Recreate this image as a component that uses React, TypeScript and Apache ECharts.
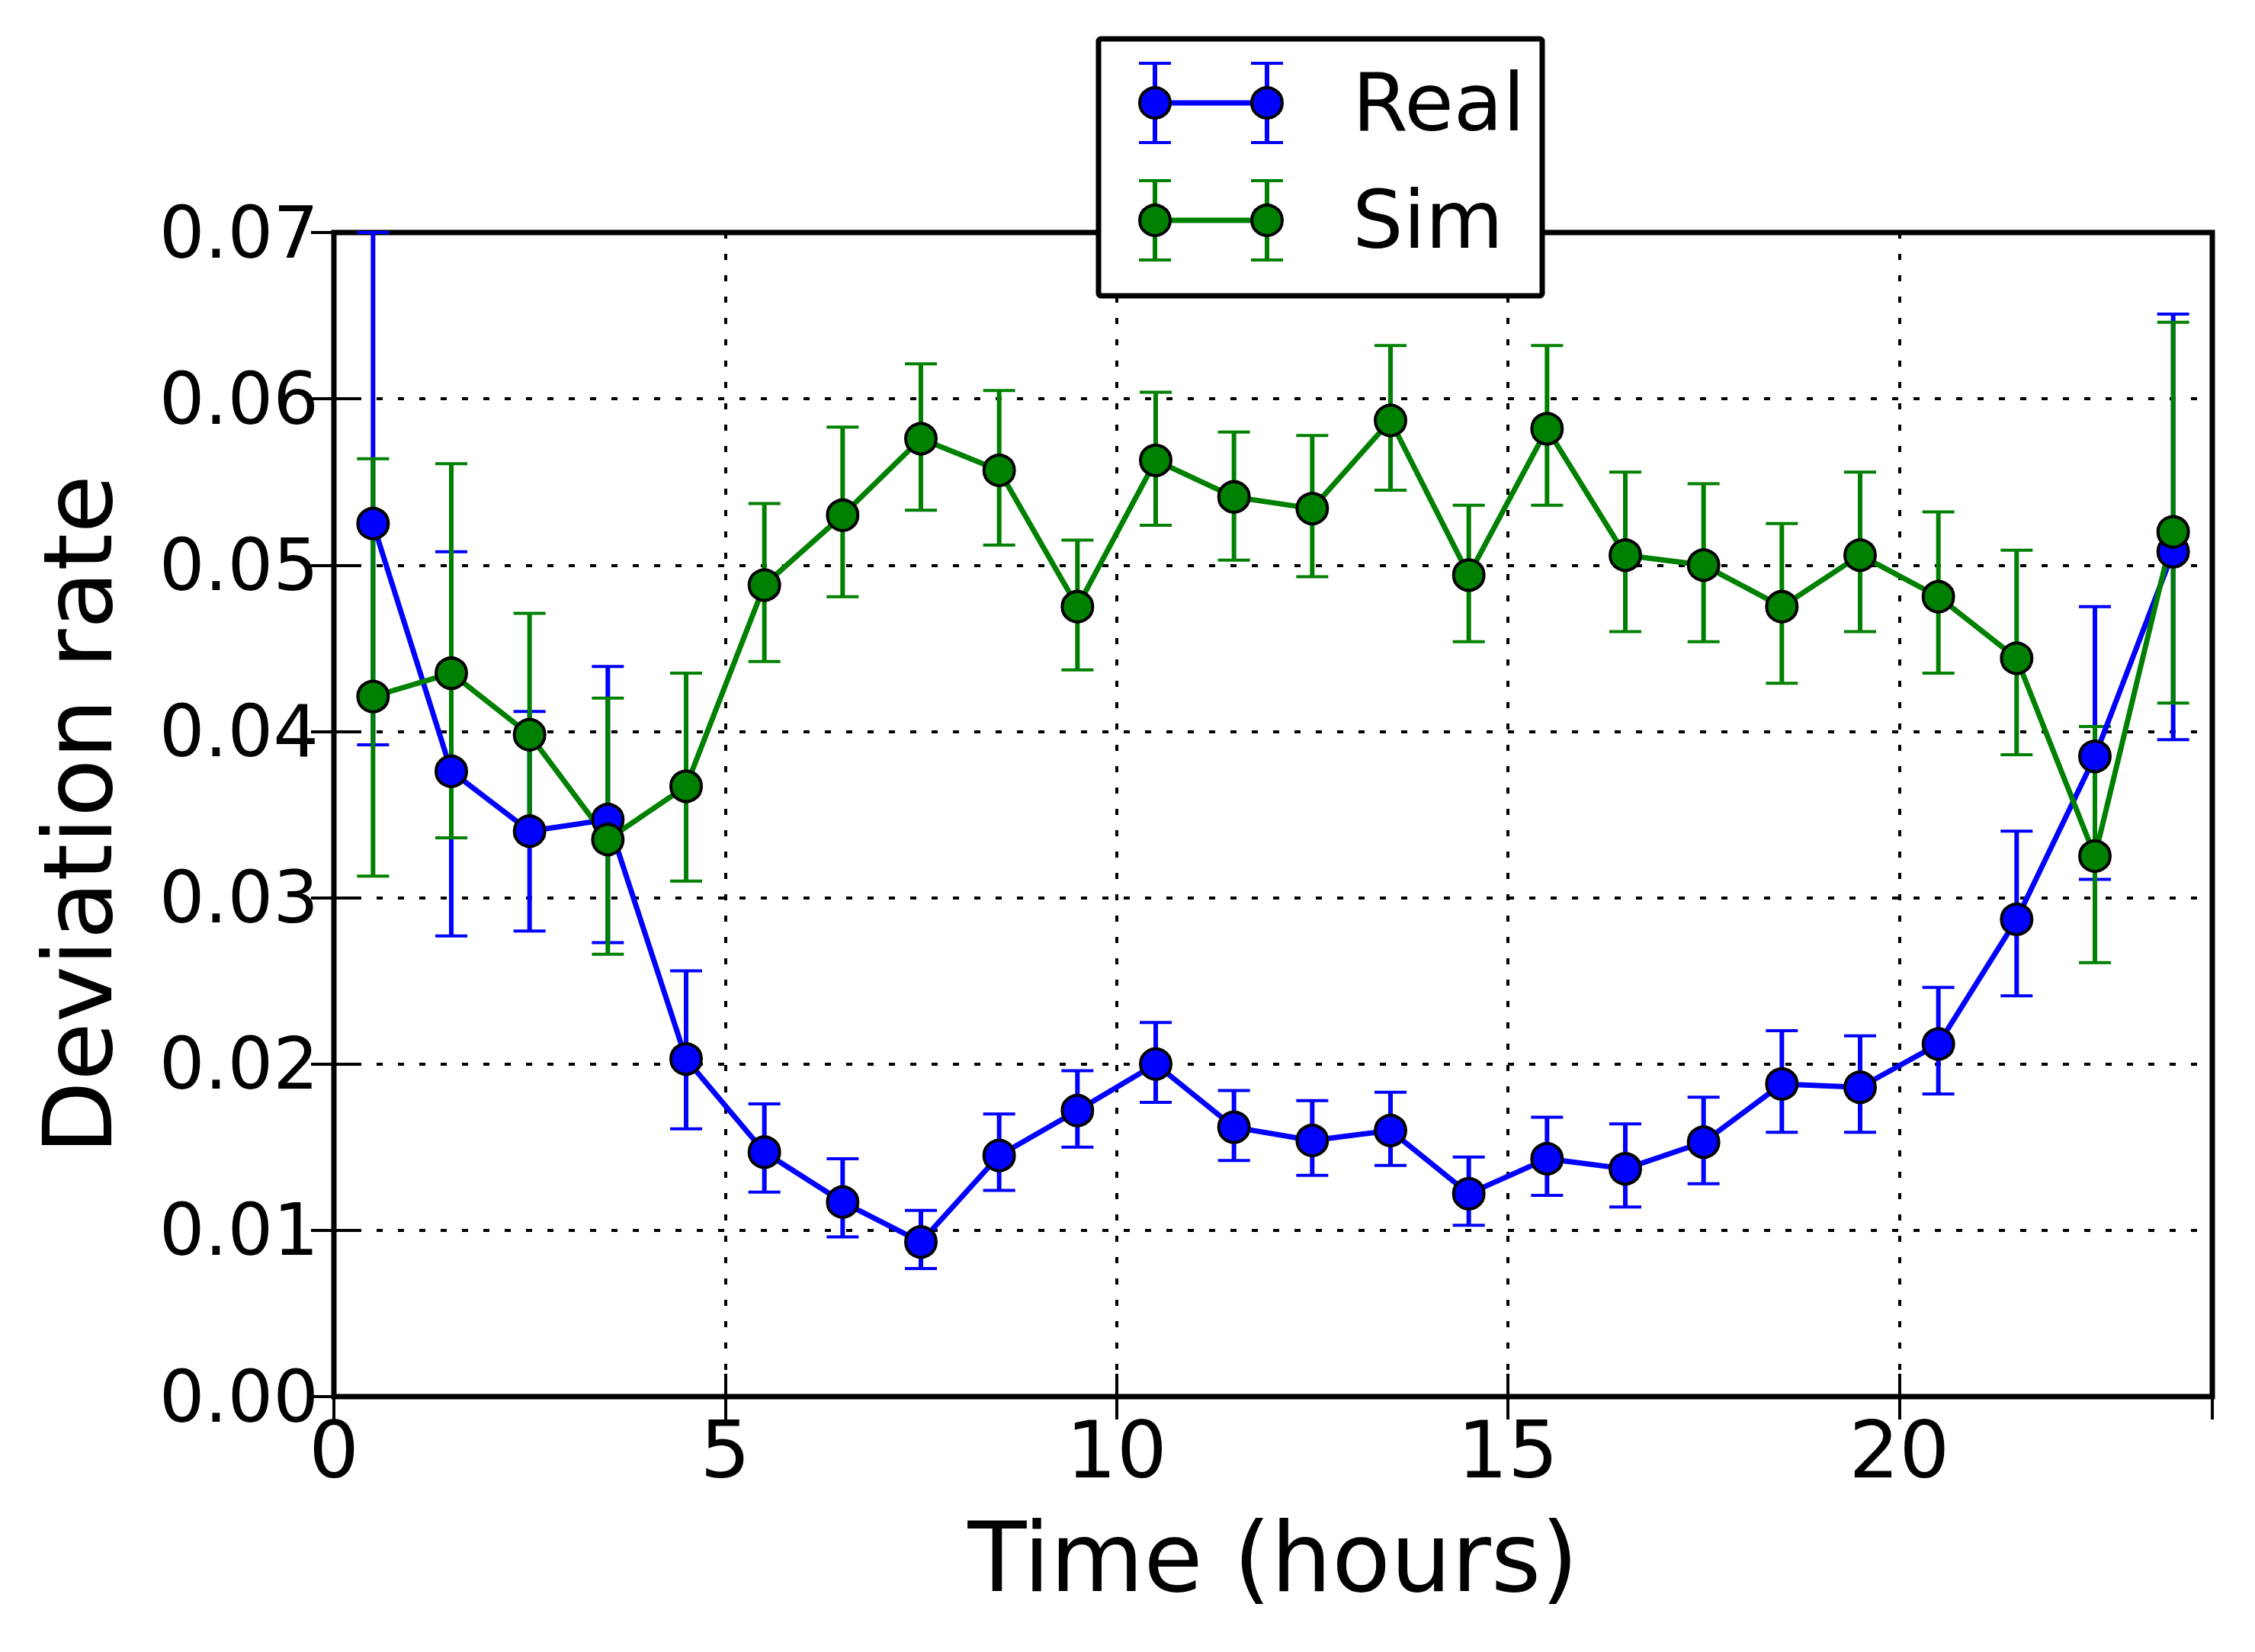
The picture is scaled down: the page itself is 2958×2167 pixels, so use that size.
import React, { useEffect, useRef } from "react";
import * as echarts from "echarts";

const hours = [0.5, 1.5, 2.5, 3.5, 4.5, 5.5, 6.5, 7.5, 8.5, 9.5, 10.5, 11.5, 12.5, 13.5, 14.5, 15.5, 16.5, 17.5, 18.5, 19.5, 20.5, 21.5, 22.5, 23.5];

const realMean = [0.0525, 0.0376, 0.0340, 0.0347, 0.0203, 0.0147, 0.0117, 0.0093, 0.0145, 0.0172, 0.0200, 0.0162, 0.0154, 0.0160, 0.0122, 0.0143, 0.0137, 0.0153, 0.0188, 0.0186, 0.0212, 0.0287, 0.0385, 0.0508];
const realLow = [0.0392, 0.0277, 0.0280, 0.0273, 0.0161, 0.0123, 0.0096, 0.0077, 0.0124, 0.0150, 0.0177, 0.0142, 0.0133, 0.0139, 0.0103, 0.0121, 0.0114, 0.0128, 0.0159, 0.0159, 0.0182, 0.0241, 0.0311, 0.0395];
const realHigh = [0.0700, 0.0508, 0.0412, 0.0439, 0.0256, 0.0176, 0.0143, 0.0112, 0.0170, 0.0196, 0.0225, 0.0184, 0.0178, 0.0183, 0.0144, 0.0168, 0.0164, 0.0180, 0.0220, 0.0217, 0.0246, 0.0340, 0.0475, 0.0651];

const simMean = [0.0421, 0.0435, 0.0398, 0.0335, 0.0367, 0.0488, 0.0530, 0.0576, 0.0557, 0.0475, 0.0563, 0.0541, 0.0534, 0.0587, 0.0494, 0.0582, 0.0506, 0.0500, 0.0475, 0.0506, 0.0481, 0.0444, 0.0325, 0.0520];
const simLow = [0.0313, 0.0336, 0.0337, 0.0266, 0.0310, 0.0442, 0.0481, 0.0533, 0.0512, 0.0437, 0.0524, 0.0503, 0.0493, 0.0545, 0.0454, 0.0536, 0.0460, 0.0454, 0.0429, 0.0460, 0.0435, 0.0386, 0.0261, 0.0417];
const simHigh = [0.0564, 0.0561, 0.0471, 0.0420, 0.0435, 0.0537, 0.0583, 0.0621, 0.0605, 0.0515, 0.0604, 0.0580, 0.0578, 0.0632, 0.0536, 0.0632, 0.0556, 0.0549, 0.0525, 0.0556, 0.0532, 0.0509, 0.0403, 0.0646];

const seriesNames = ["Real", "Sim"];
const seriesColors = ["#0000ff", "#008000"];

const FONT = "DejaVu Sans";
const W = 2958;
const H = 2167;

function errorSeries(name: string, color: string, low: number[], high: number[]) {
  return {
    type: "custom",
    name: name + " err",
    z: 2,
    silent: true,
    data: hours.map((h, i) => [h, low[i], high[i]]),
    encode: { x: 0, y: [1, 2] },
    renderItem: (params: any, api: any) => {
      const x = api.value(0);
      const top = api.coord([x, api.value(2)]);
      const bot = api.coord([x, api.value(1)]);
      const hw = 21;
      return {
        type: "group",
        children: [
          { type: "line", shape: { x1: top[0], y1: top[1], x2: bot[0], y2: bot[1] }, style: { stroke: color, lineWidth: 6 } },
          { type: "line", shape: { x1: top[0] - hw, y1: top[1], x2: top[0] + hw, y2: top[1] }, style: { stroke: color, lineWidth: 4 } },
          { type: "line", shape: { x1: bot[0] - hw, y1: bot[1], x2: bot[0] + hw, y2: bot[1] }, style: { stroke: color, lineWidth: 4 } },
        ],
      };
    },
  };
}

function lineSeries(name: string, color: string, mean: number[]) {
  return {
    type: "line",
    name,
    z: 3,
    silent: true,
    data: hours.map((h, i) => [h, mean[i]]),
    symbol: "circle",
    symbolSize: 40,
    showSymbol: true,
    itemStyle: { color, borderColor: "#000", borderWidth: 4 },
    lineStyle: { color, width: 7 },
    emphasis: { disabled: true },
  };
}

function legendGraphics() {
  const box = { x: 1441, y: 51, w: 582, h: 337 };
  const rowsY = [135, 289];
  const markerX = [1515, 1662];
  const children: any[] = [
    {
      type: "rect",
      z: 100,
      shape: { x: box.x, y: box.y, width: box.w, height: box.h, r: 3 },
      style: { fill: "#fff", stroke: "#000", lineWidth: 7 },
    },
  ];
  seriesNames.forEach((name, k) => {
    const y = rowsY[k];
    const color = seriesColors[k];
    children.push({
      type: "line",
      z: 101,
      shape: { x1: markerX[0], y1: y, x2: markerX[1], y2: y },
      style: { stroke: color, lineWidth: 7 },
    });
    markerX.forEach((mx) => {
      children.push({ type: "line", z: 101, shape: { x1: mx, y1: y - 52, x2: mx, y2: y + 52 }, style: { stroke: color, lineWidth: 6 } });
      children.push({ type: "line", z: 101, shape: { x1: mx - 21, y1: y - 52, x2: mx + 21, y2: y - 52 }, style: { stroke: color, lineWidth: 4 } });
      children.push({ type: "line", z: 101, shape: { x1: mx - 21, y1: y + 52, x2: mx + 21, y2: y + 52 }, style: { stroke: color, lineWidth: 4 } });
      children.push({ type: "circle", z: 102, shape: { cx: mx, cy: y, r: 20 }, style: { fill: color, stroke: "#000", lineWidth: 4 } });
    });
    children.push({
      type: "text",
      z: 102,
      x: 1774,
      y: y,
      style: { text: name, fontSize: 105, fontFamily: FONT, fill: "#000", textVerticalAlign: "middle", textAlign: "left" },
    });
  });
  return children;
}

export default function App() {
  const ref = useRef<HTMLDivElement>(null);
  useEffect(() => {
    if (!ref.current) return;
    const chart = echarts.init(ref.current, null, { renderer: "svg" });
    const dotted = { color: "#000", width: 4, type: [8, 20] };
    const tick = { show: true, inside: true, length: 30, lineStyle: { color: "#000", width: 4 } };
    const option: any = {
      animation: false,
      backgroundColor: "#fff",
      textStyle: { fontFamily: FONT },
      grid: { left: 438, right: W - 2902, top: 305, bottom: H - 1832, show: true, borderColor: "#000", borderWidth: 7, backgroundColor: "transparent" },
      xAxis: [
        {
          type: "value",
          min: 0,
          max: 24,
          interval: 5,
          position: "bottom",
          axisLine: { show: false },
          axisTick: tick,
          axisLabel: { fontSize: 104, color: "#000", fontFamily: FONT, margin: 18, showMaxLabel: false },
          splitLine: { show: true, lineStyle: dotted },
          name: "Time (hours)",
          nameLocation: "middle",
          nameGap: 148,
          nameTextStyle: { fontSize: 126, color: "#000", fontFamily: FONT },
        },
        {
          type: "value",
          min: 0,
          max: 24,
          interval: 5,
          position: "top",
          axisLine: { show: false },
          axisTick: tick,
          axisLabel: { show: false },
          splitLine: { show: false },
        },
      ],
      yAxis: [
        {
          type: "value",
          min: 0,
          max: 0.07,
          interval: 0.01,
          position: "left",
          axisLine: { show: false },
          axisTick: tick,
          axisLabel: { fontSize: 94, color: "#000", fontFamily: FONT, margin: 20, padding: [0, 0, 19, 0], formatter: (v: number) => v.toFixed(2) },
          splitLine: { show: true, lineStyle: dotted },
          name: "Deviation rate",
          nameLocation: "middle",
          nameGap: 273,
          nameTextStyle: { fontSize: 125, color: "#000", fontFamily: FONT },
        },
        {
          type: "value",
          min: 0,
          max: 0.07,
          interval: 0.01,
          position: "right",
          axisLine: { show: false },
          axisTick: tick,
          axisLabel: { show: false },
          splitLine: { show: false },
        },
      ],
      series: [
        errorSeries(seriesNames[0], seriesColors[0], realLow, realHigh),
        errorSeries(seriesNames[1], seriesColors[1], simLow, simHigh),
        lineSeries(seriesNames[0], seriesColors[0], realMean),
        lineSeries(seriesNames[1], seriesColors[1], simMean),
      ],
      graphic: legendGraphics(),
    };
    chart.setOption(option);
    return () => chart.dispose();
  }, []);
  return <div ref={ref} style={{ position: "fixed", left: 0, top: 0, width: W, height: H, background: "#fff" }} />;
}
